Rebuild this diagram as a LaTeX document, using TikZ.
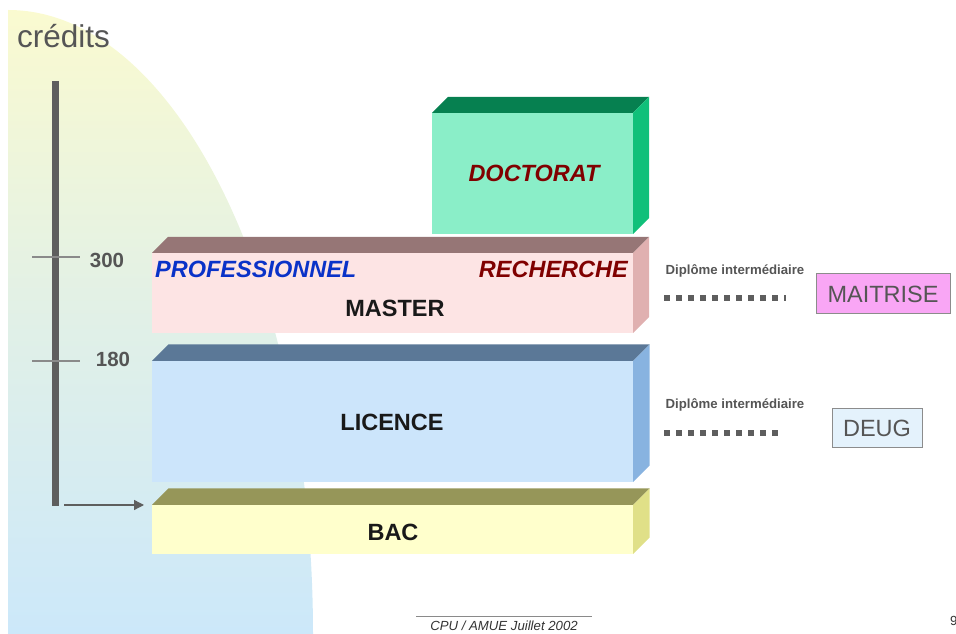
\documentclass[tikz,border=0pt]{standalone}
\usepackage{fontspec}
\setmainfont{Liberation Sans}
\usetikzlibrary{arrows.meta,calc}
\definecolor{bgtop}{HTML}{FAFAD0}
\definecolor{bgbot}{HTML}{CCE8FA}
\definecolor{axisgray}{HTML}{5E5E5E}
\definecolor{tickgray}{HTML}{8A8A8A}
\definecolor{txtgray}{HTML}{555555}
\definecolor{doctop}{HTML}{068050}
\definecolor{docfront}{HTML}{8AEEC8}
\definecolor{docside}{HTML}{10C07A}
\definecolor{docred}{HTML}{800000}
\definecolor{mastop}{HTML}{967676}
\definecolor{masfront}{HTML}{FDE4E4}
\definecolor{masside}{HTML}{E0B0B0}
\definecolor{lictop}{HTML}{5B7897}
\definecolor{licfront}{HTML}{CCE5FB}
\definecolor{licside}{HTML}{88B3E0}
\definecolor{bactop}{HTML}{969659}
\definecolor{bacfront}{HTML}{FFFFCC}
\definecolor{bacside}{HTML}{E0E088}
\definecolor{problue}{HTML}{0A32C8}
\definecolor{maifill}{HTML}{F9A6F5}
\definecolor{deugfill}{HTML}{E4F2FC}
\definecolor{boxedge}{HTML}{8C8C8C}
\newcommand\mkprism[4]{%
  \fill[#2] (#1.north west) -- ++(#4,#4) -- ($(#1.north east)+(#4,#4)$) -- (#1.north east) -- cycle;
  \fill[#3] (#1.north east) -- ++(#4,#4) -- ($(#1.south east)+(#4,#4)$) -- (#1.south east) -- cycle;}
\tikzset{
  front/.style={rectangle,inner sep=0pt,outer sep=0pt,draw=none},
  big/.style={font=\fontsize{23.5}{28}\selectfont\bfseries},
  bigit/.style={font=\fontsize{23.5}{28}\selectfont\bfseries\itshape},
  small/.style={font=\fontsize{13.2}{16}\selectfont\bfseries,text=txtgray},
  tick/.style={draw=tickgray,line width=1.4pt},
  dots/.style={draw=axisgray,line width=6pt,dash pattern=on 6pt off 6pt},
  diplbox/.style={rectangle,draw=boxedge,line width=1pt,inner sep=0pt,text=txtgray,font=\fontsize{23.5}{28}\selectfont},
  axisarrow/.style={draw=axisgray,line width=1.3pt,-{Triangle[length=10pt,width=10pt]}}
}
\begin{document}
\begin{tikzpicture}[x=1pt,y=1pt]
\useasboundingbox (0,0) rectangle (956,634);
% background
\shade[top color=bgtop,bottom color=bgbot,middle color=bgtop!45!bgbot] (8,0) -- (8,624) arc[start angle=90,end angle=0,x radius=305,y radius=624] -- cycle;
\node[anchor=base west,text=txtgray,font=\fontsize{31.5}{36}\selectfont,inner sep=0pt] (credits) at (17,586) {crédits};
% axis
\coordinate (axtop) at (55.5,553);
\coordinate (axbot) at (55.5,128);
\draw[axisgray,line width=6.5pt] (axtop) -- (axbot);
\coordinate (t3a) at (32,377); \coordinate (t3b) at (80,377);
\coordinate (t1a) at (32,273); \coordinate (t1b) at (80,273);
\draw[tick] (t3a) -- (t3b);
\draw[tick] (t1a) -- (t1b);
\node[font=\fontsize{20.5}{24}\selectfont\bfseries,text=txtgray,anchor=base] (l300) at (107,366) {300};
\node[font=\fontsize{20.5}{24}\selectfont\bfseries,text=txtgray,anchor=base] (l180) at (113,267) {180};
% prisms
\node[front,fill=docfront,minimum width=201pt,minimum height=121pt] (doc) at (532.5,460.5) {};
\mkprism{doc}{doctop}{docside}{16}
\node[front,fill=masfront,minimum width=481pt,minimum height=80pt] (mas) at (392.5,341) {};
\mkprism{mas}{mastop}{masside}{16}
\node[front,fill=licfront,minimum width=481pt,minimum height=121pt] (lic) at (392.5,212.5) {};
\mkprism{lic}{lictop}{licside}{16.5}
\node[front,fill=bacfront,minimum width=481pt,minimum height=49pt] (bac) at (392.5,104.5) {};
\mkprism{bac}{bactop}{bacside}{16.5}
% texts in prisms
\node[bigit,text=docred,anchor=base] (tdoc) at (534,452) {DOCTORAT};
\node[bigit,text=problue,anchor=base west,inner sep=0pt] (tpro) at (155,356) {PROFESSIONNEL};
\node[bigit,text=docred,anchor=base east,inner sep=0pt] (trec) at (628,356) {RECHERCHE};
\node[big,text=black!90,anchor=base] (tmas) at (395,317) {MASTER};
\node[big,text=black!90,anchor=base] (tlic) at (392,203) {LICENCE};
\node[big,text=black!90,anchor=base] (tbac) at (393,93) {BAC};
% arrow to BAC
\draw[axisarrow] ($(axbot)+(8.5,1)$) -- ($(bac.north west)+(-8,0)$);
% intermediate diplomas
\node[small,anchor=base] (dip1) at (735,359) {Diplôme intermédiaire};
\node[small,anchor=base] (dip2) at (735,225) {Diplôme intermédiaire};
\coordinate (d1a) at (664,336); \coordinate (d1b) at (786,336);
\coordinate (d2a) at (664,201); \coordinate (d2b) at (778,201);
\draw[dots] (d1a) -- (d1b);
\draw[dots] (d2a) -- (d2b);
\node[diplbox,fill=maifill,minimum width=134pt,minimum height=40pt] (mai) at (883,340) {MAITRISE};
\node[diplbox,fill=deugfill,minimum width=90pt,minimum height=39pt] (deug) at (877,205.5) {DEUG};
% footer
\coordinate (fa) at (416,17); \coordinate (fb) at (592,17);
\draw[tickgray,line width=1pt] (fa) -- (fb);
\node[anchor=base,font=\fontsize{13.2}{16}\selectfont\itshape,text=black!80,inner sep=0pt] (foot) at (504,3) {CPU / AMUE Juillet 2002};
\node[anchor=base west,font=\fontsize{13.2}{16}\selectfont,text=black!80,inner sep=0pt] (page) at (950,8) {9};
\end{tikzpicture}
\end{document}
